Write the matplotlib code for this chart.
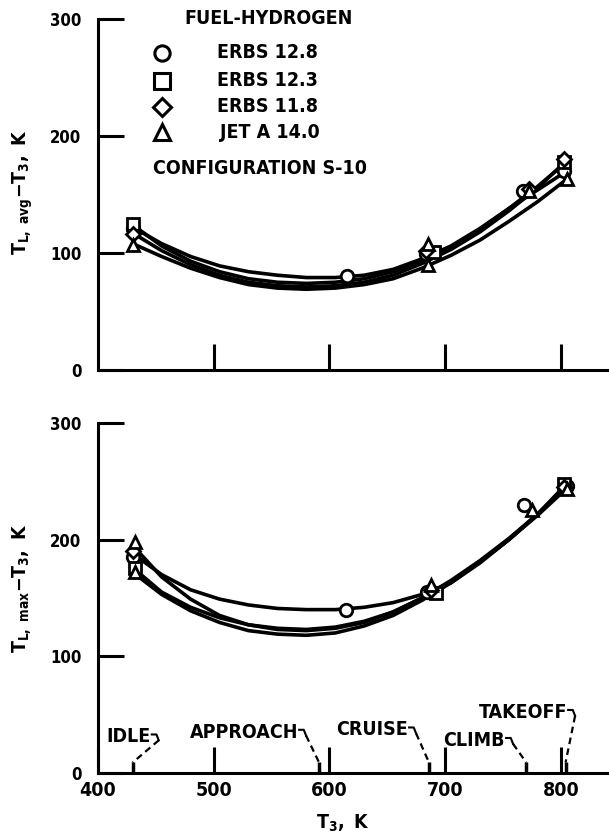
import matplotlib
matplotlib.use('Agg')
import matplotlib.pyplot as plt

plt.rcParams['font.family'] = ['DejaVu Sans']
plt.rcParams['font.weight'] = 'bold'
plt.rcParams['font.stretch'] = 'condensed'
plt.rcParams['mathtext.fontset'] = 'custom'
plt.rcParams['mathtext.rm'] = 'DejaVu Sans:weight=bold:stretch=condensed'
plt.rcParams['mathtext.it'] = 'DejaVu Sans:weight=bold:stretch=condensed'
plt.rcParams['mathtext.bf'] = 'DejaVu Sans:weight=bold:stretch=condensed'

# fuels and their symbols
fuels = ['ERBS 12.8', 'ERBS 12.3', 'ERBS 11.8', 'JET A 14.0']
markers = ['o', 's', 'D', '^']

# faired curves at these inlet temperatures
curve_t3 = [430, 455, 480, 505, 530, 555, 580, 605, 630, 655, 680, 705, 730, 755, 780, 805]
avg_curves = [
    [122, 108, 97, 89, 84, 81, 79, 79, 81, 86, 95, 106, 121, 138, 154, 170],
    [124, 106, 93, 84, 78, 75, 74, 75, 78, 84, 93, 105, 120, 138, 157, 178],
    [117, 102, 90, 81, 75, 72, 71, 72, 75, 81, 91, 103, 118, 136, 156, 179],
    [108, 97, 87, 79, 73, 70, 69, 70, 73, 78, 87, 98, 111, 127, 144, 163],
]
max_curves = [
    [188, 170, 157, 149, 144, 141, 140, 140, 142, 146, 153, 163, 180, 200, 222, 246],
    [176, 155, 142, 133, 127, 124, 123, 125, 130, 138, 150, 164, 181, 200, 222, 248],
    [195, 168, 149, 135, 127, 123, 122, 124, 129, 138, 150, 165, 182, 201, 222, 246],
    [172, 153, 139, 129, 122, 119, 118, 120, 126, 135, 148, 163, 181, 200, 221, 244],
]

# measured points (T3, K) and liner temperature differences (K)
avg_t3 = [
    [430, 615, 683, 767, 803],
    [430, 690, 803],
    [430, 683, 772, 803],
    [430, 685, 685, 772, 805],
]
avg_dt = [
    [121, 80, 99, 153, 170],
    [125, 101, 178],
    [116, 102, 155, 180],
    [107, 108, 90, 153, 163],
]
max_t3 = [
    [430, 614, 684, 768, 805],
    [432, 692, 803],
    [430, 688, 803],
    [432, 432, 688, 775, 805],
]
max_dt = [
    [185, 140, 155, 230, 246],
    [176, 154, 248],
    [190, 157, 245],
    [198, 172, 161, 225, 243],
]

# engine operating conditions on the T3 axis
ops = ['IDLE', 'APPROACH', 'CRUISE', 'CLIMB', 'TAKEOFF']
op_t3 = [430, 591, 686, 770, 804]
op_label_end = [445.5, 572.8, 667.8, 751.6, 805.2]
op_label_y = [31, 35, 37, 28, 52]

fig = plt.figure(figsize=(6.09, 8.39), dpi=100)
ax1 = fig.add_axes([0.1609, 0.559, 0.8391, 0.4184])
ax2 = fig.add_axes([0.1609, 0.0787, 0.8391, 0.4172])

for ax in (ax1, ax2):
    for side in ('top', 'right'):
        ax.spines[side].set_visible(False)
    for side in ('left', 'bottom'):
        ax.spines[side].set_linewidth(2.2)
    ax.set_xlim(400, 841.5)
    ax.set_ylim(0, 300)
    ax.set_yticks([0, 100, 200, 300])
    ax.tick_params(direction='in', length=19, width=2.2, labelsize=12, pad=12)
    ax.tick_params(axis='x', pad=6, labelsize=14)

ax1.set_xticks([500, 600, 700, 800])
ax1.set_xticklabels([])
ax2.set_xticks([400, 500, 600, 700, 800])

for ax, curves, pts_t3, pts_dt in ((ax1, avg_curves, avg_t3, avg_dt), (ax2, max_curves, max_t3, max_dt)):
    for curve in curves:
        ax.plot(curve_t3, curve, color='black', lw=2.6, solid_capstyle='round', zorder=2)
    for t, d, m in zip(pts_t3, pts_dt, markers):
        ax.plot(t, d, ls='none', marker=m, ms=9 if m != 'D' else 7, mfc='white', mec='black', mew=2, zorder=3)

# legend block
ax1.text(0.333, 300.5 / 300, 'FUEL-HYDROGEN', transform=ax1.transAxes, ha='center', va='center', fontsize=14)
legend_y = [271, 247, 225, 203]
for name, m, y in zip(fuels, markers, legend_y):
    ax1.plot([0.125], [y / 300], transform=ax1.transAxes, ls='none', marker=m,
             ms=11 if m != 'D' else 9, mfc='white', mec='black', mew=2.2, clip_on=False)
    ax1.text(0.233 if not name.startswith('JET') else 0.239, y / 300, name, transform=ax1.transAxes,
             ha='left', va='center', fontsize=14)
ax1.text(0.108, 172.6 / 300, 'CONFIGURATION S-10', transform=ax1.transAxes, ha='left', va='center', fontsize=14)

# operating condition markers and leaders
ax2.vlines(op_t3, 0, 9, color='black', lw=2.5)
for name, m, xe, y in zip(ops, op_t3, op_label_end, op_label_y):
    ax2.text(xe, y, name, ha='right', va='center', fontsize=14)
    ax2.plot([xe + 1, xe + 5, xe + 7], [y + 2, y + 2, y - 3], color='black', lw=1.5)
    ax2.plot([xe + 7, m], [y - 3, 9], color='black', lw=1.6, ls=(0, (3, 2)))

ax1.text(-0.147, 0.507, r'$\mathrm{T_{L,\ avg}{-}T_3,\ K}$', transform=ax1.transAxes, rotation=90,
         ha='center', va='center', fontsize=14)
ax2.text(-0.147, 0.529, r'$\mathrm{T_{L,\ max}{-}T_3,\ K}$', transform=ax2.transAxes, rotation=90,
         ha='center', va='center', fontsize=14)
ax2.text(0.48, -0.145, r'$\mathrm{T_3,\ K}$', transform=ax2.transAxes, ha='center', va='center', fontsize=14)

fig.savefig('out.png', dpi=100)
